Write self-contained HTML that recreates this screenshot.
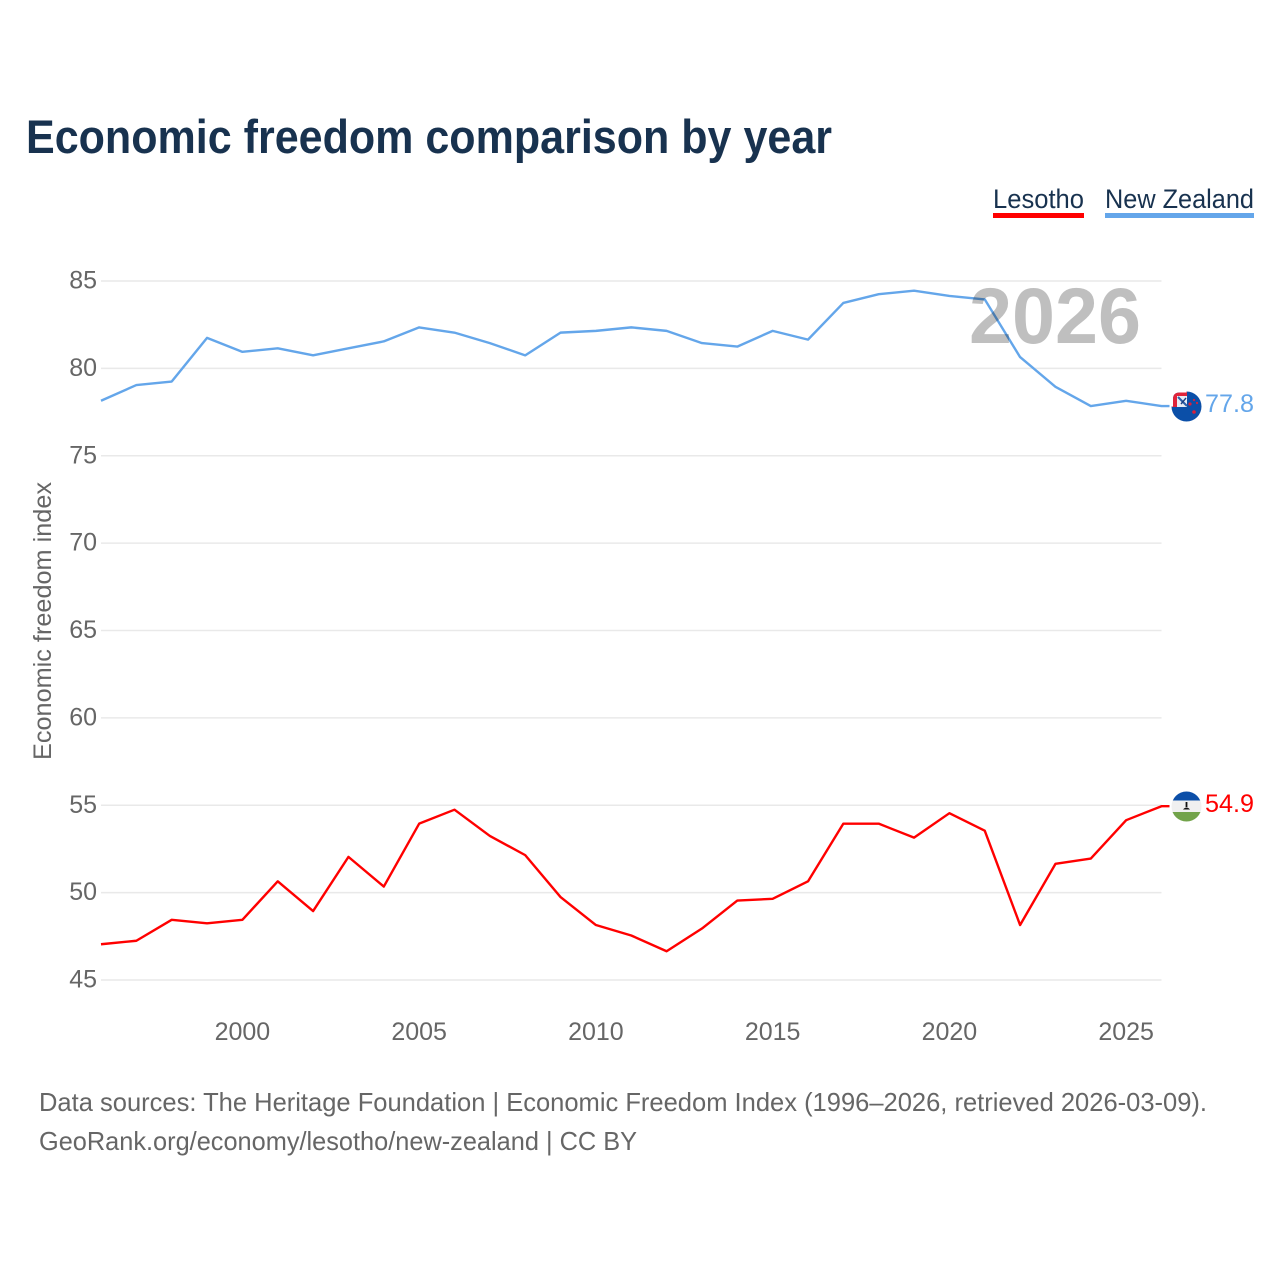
<!DOCTYPE html>
<html lang="en">
<head>
<meta charset="utf-8">
<title>Economic freedom comparison by year</title>
<style>
html,body{margin:0;padding:0;background:#fff;width:1280px;height:1280px;overflow:hidden}
svg{display:block}
text{font-family:"Liberation Sans",sans-serif}
</style>
</head>
<body>
<svg id="chart" xmlns="http://www.w3.org/2000/svg" width="1280" height="1280" viewBox="0 0 1280 1280">
  <defs>
    <clipPath id="nz-clip"><path d="M1171.5 406.5 A15 15 0 0 0 1201.5 406.5 A15 15 0 0 0 1186.5 391.5 V406.5 Z M1173 406.5 V399 Q1173 392.5 1180 392.5 H1186.5 V406.5 Z"/></clipPath>
    <clipPath id="ls-clip"><circle cx="1186.5" cy="806.5" r="15"/></clipPath>
  </defs>
  <rect width="1280" height="1280" fill="#fff"/>
  <text x="26" y="153" font-size="47" font-weight="700" fill="#18324f" textLength="806" lengthAdjust="spacingAndGlyphs">Economic freedom comparison by year</text>

  <g>
    <g>
      <text x="993" y="208" font-size="27" fill="#18324f" textLength="91" lengthAdjust="spacingAndGlyphs">Lesotho</text>
      <rect x="993" y="213" width="91" height="5" fill="#ff0000"/>
    </g>
    <g>
      <text x="1105" y="208" font-size="27" fill="#18324f" textLength="149" lengthAdjust="spacingAndGlyphs">New Zealand</text>
      <rect x="1105" y="213" width="149" height="5" fill="#64a6ea"/>
    </g>
  </g>

  <g id="grid"></g>
  <g id="y-ticks"></g>
  <g id="x-ticks"></g>
  <text transform="translate(51,621) rotate(-90)" text-anchor="middle" font-size="25" fill="#666" textLength="278" lengthAdjust="spacingAndGlyphs">Economic freedom index</text>

  <g id="series"></g>

  <text x="969" y="343" font-size="79" font-weight="700" fill="#000" fill-opacity="0.25" textLength="172" lengthAdjust="spacingAndGlyphs">2026</text>

  <g>
    <g clip-path="url(#nz-clip)">
      <rect x="1170" y="390" width="33" height="33" fill="#0b4fa8"/>
      <rect x="1172" y="391" width="15" height="16" fill="#e0243a"/>
      <rect x="1177" y="396" width="10" height="11" fill="#e8edf5"/>
      <path d="M1178 397l9 9" stroke="#2c5fa8" stroke-width="2"/>
      <path d="M1181 404l5-6" stroke="#1a3f80" stroke-width="1.4"/>
      <circle cx="1190" cy="404" r="1.6" fill="#d8203a"/>
      <circle cx="1197" cy="403" r="1.1" fill="#d8203a"/>
      <circle cx="1194" cy="400" r="1.1" fill="#d8203a"/>
      <circle cx="1194" cy="412" r="1.8" fill="#d8203a"/>
    </g>
  </g>
  <g>
    <g clip-path="url(#ls-clip)">
      <rect x="1170" y="790" width="33" height="10.5" fill="#0c4fa8"/>
      <rect x="1170" y="800.5" width="33" height="11.5" fill="#f0f0f0"/>
      <rect x="1170" y="812" width="33" height="11" fill="#72a34a"/>
      <rect x="1185.6" y="802" width="1.8" height="5" fill="#111"/>
      <path d="M1183 809.5q3.5-4 7 0z" fill="#111"/>
    </g>
  </g>
  <text id="label-nz" x="1205" y="412" font-size="25" fill="#64a6ea" textLength="49" lengthAdjust="spacingAndGlyphs"></text>
  <text id="label-ls" x="1205" y="812" font-size="25" fill="#ff0000" textLength="49" lengthAdjust="spacingAndGlyphs"></text>

  <g>
    <text x="39" y="1111" font-size="26" fill="#666" textLength="1168" lengthAdjust="spacingAndGlyphs">Data sources: The Heritage Foundation | Economic Freedom Index (1996–2026, retrieved 2026-03-09).</text>
    <text x="39" y="1150" font-size="26" fill="#666" textLength="598" lengthAdjust="spacingAndGlyphs">GeoRank.org/economy/lesotho/new-zealand | CC BY</text>
  </g>
</svg>
<script>
const years = [1996,1997,1998,1999,2000,2001,2002,2003,2004,2005,2006,2007,2008,2009,2010,2011,2012,2013,2014,2015,2016,2017,2018,2019,2020,2021,2022,2023,2024,2025,2026];
const lesotho = [47.0,47.2,48.4,48.2,48.4,50.6,48.9,52.0,50.3,53.9,54.7,53.2,52.1,49.7,48.1,47.5,46.6,47.9,49.5,49.6,50.6,53.9,53.9,53.1,54.5,53.5,48.1,51.6,51.9,54.1,54.9];
const newZealand = [78.1,79.0,79.2,81.7,80.9,81.1,80.7,81.1,81.5,82.3,82.0,81.4,80.7,82.0,82.1,82.3,82.1,81.4,81.2,82.1,81.6,83.7,84.2,84.4,84.1,83.9,80.6,78.9,77.8,78.1,77.8];
const yTickValues = [45,50,55,60,65,70,75,80,85];
const xTickValues = [2000,2005,2010,2015,2020,2025];

const NS = 'http://www.w3.org/2000/svg';
const xScale = function (year) { return 101 + (year - 1996) * (1060.5 / 30); };
const yScale = function (value) { return 281 + (85 - value) * (699 / 40); };
const grid = document.getElementById('grid');
const yTicks = document.getElementById('y-ticks');
const xTicks = document.getElementById('x-ticks');
const seriesGroup = document.getElementById('series');
seriesGroup.setAttribute('transform', 'translate(0,-0.8)');

yTickValues.forEach(function (value) {
  const line = document.createElementNS(NS, 'line');
  
  
  line.setAttribute('x1', 101);
  line.setAttribute('x2', 1161.5);
  line.setAttribute('y1', yScale(value));
  line.setAttribute('y2', yScale(value));
  line.setAttribute('stroke', '#e9e9e9');
  line.setAttribute('stroke-width', 1.5);
  grid.appendChild(line);

  const label = document.createElementNS(NS, 'text');
  
  
  label.setAttribute('x', 97);
  label.setAttribute('y', yScale(value) + 7.5);
  label.setAttribute('text-anchor', 'end');
  label.setAttribute('font-size', 25);
  label.setAttribute('fill', '#666');
  label.textContent = value;
  yTicks.appendChild(label);
});

xTickValues.forEach(function (year) {
  const label = document.createElementNS(NS, 'text');
  
  
  label.setAttribute('x', xScale(year));
  label.setAttribute('y', 1040);
  label.setAttribute('text-anchor', 'middle');
  label.setAttribute('font-size', 25);
  label.setAttribute('fill', '#666');
  label.textContent = year;
  xTicks.appendChild(label);
});

const pathFrom = function (values) {
  return values.map(function (value, i) {
    return (i ? 'L' : 'M') + xScale(years[i]).toFixed(2) + ' ' + yScale(value).toFixed(2);
  }).join(' ');
};

const lesothoLine = document.createElementNS(NS, 'path');


lesothoLine.setAttribute('d', pathFrom(lesotho) + ' h8');
lesothoLine.setAttribute('fill', 'none');
lesothoLine.setAttribute('stroke', '#ff0000');
lesothoLine.setAttribute('stroke-width', 2.4);
lesothoLine.setAttribute('stroke-linejoin', 'round');
seriesGroup.appendChild(lesothoLine);

const nzLine = document.createElementNS(NS, 'path');


nzLine.setAttribute('d', pathFrom(newZealand) + ' h8');
nzLine.setAttribute('fill', 'none');
nzLine.setAttribute('stroke', '#64a6ea');
nzLine.setAttribute('stroke-width', 2.4);
nzLine.setAttribute('stroke-linejoin', 'round');
seriesGroup.appendChild(nzLine);

document.getElementById('label-nz').textContent = newZealand[newZealand.length - 1].toFixed(1);
document.getElementById('label-ls').textContent = lesotho[lesotho.length - 1].toFixed(1);
</script>
</body>
</html>
